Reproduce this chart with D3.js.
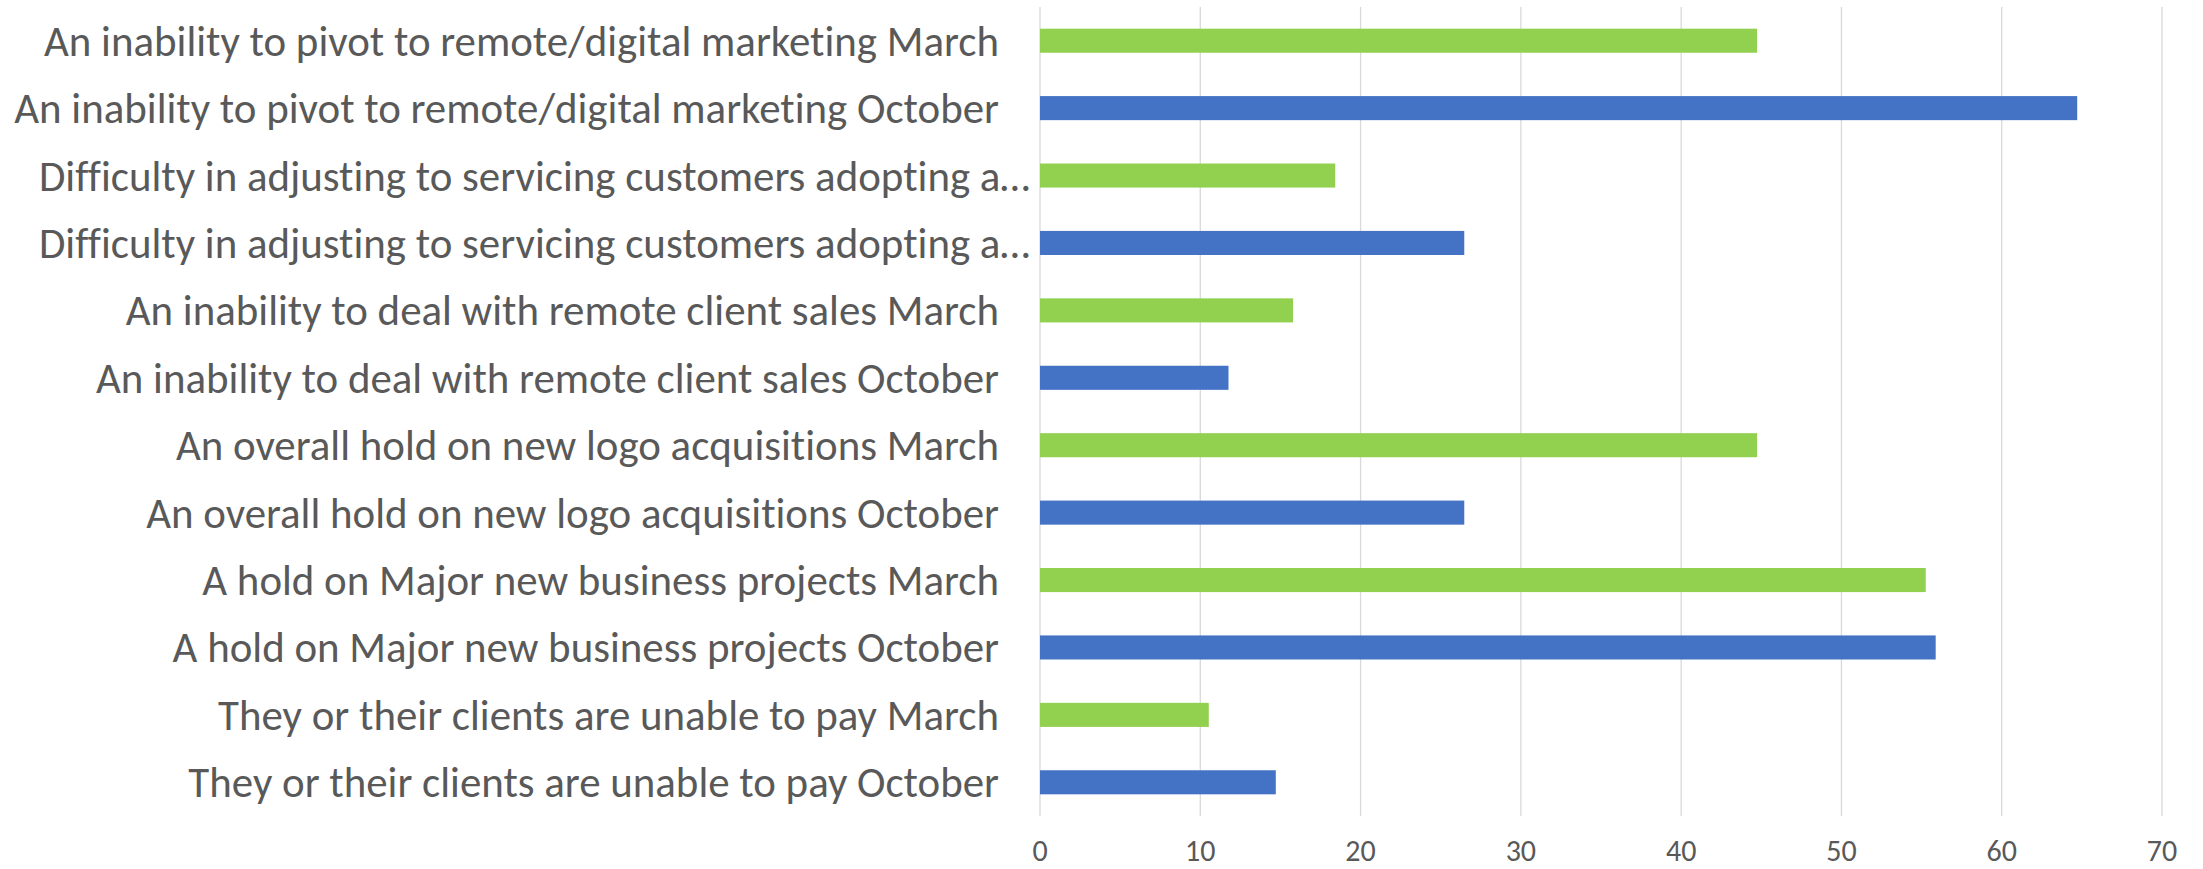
<meta charset="utf-8">
<style type="text/css">
    body { margin: 0; background: #fff; }

    .grid line {
        stroke: #d9d9d9;
        stroke-width: 1.3;
    }

    .cat, .tick-label {
        fill: #595959;
        font-family: Carlito, "Liberation Sans Narrow", "DejaVu Sans Condensed", "Open Sans", sans-serif;
        font-variant-ligatures: none;
        font-feature-settings: "liga" 0, "clig" 0;
    }
</style>
<body>

<script src="https://d3js.org/d3.v7.min.js"></script>
<script>

// categories, top to bottom as they appear
var labels = [
    "An inability to pivot to remote/digital marketing March",
    "An inability to pivot to remote/digital marketing October",
    "Difficulty in adjusting to servicing customers adopting a…",
    "Difficulty in adjusting to servicing customers adopting a… ",
    "An inability to deal with remote client sales March",
    "An inability to deal with remote client sales October",
    "An overall hold on new logo acquisitions March",
    "An overall hold on new logo acquisitions October",
    "A hold on Major new business projects March",
    "A hold on Major new business projects October",
    "They or their clients are unable to pay March",
    "They or their clients are unable to pay October"
];

// survey month for each row (sets the bar colour)
var periods = ["March", "October", "March", "October", "March", "October",
               "March", "October", "March", "October", "March", "October"];

// percentage of respondents
var values = [44.74, 64.71, 18.42, 26.47, 15.79, 11.76,
              44.74, 26.47, 55.26, 55.88, 10.53, 14.71];

var ticks = [0, 10, 20, 30, 40, 50, 60, 70];

var colors = {March: "#92d050", October: "#4472c4"};

var width = 2203, height = 869;

var x = d3.scaleLinear().domain([0, 70]).range([1040, 2162]);
var y = d3.scaleBand()
    .domain(labels)
    .range([7, 816])
    .paddingInner(0.643)
    .paddingOuter(0.3215);

var svg = d3.select("body").append("svg")
    .attr("width", width)
    .attr("height", height);

// vertical gridlines
svg.append("g")
    .attr("class", "grid")
  .selectAll("line")
    .data(ticks)
  .enter().append("line")
    .attr("x1", function(d) { return x(d); })
    .attr("x2", function(d) { return x(d); })
    .attr("y1", 7)
    .attr("y2", 816);

// bars
svg.selectAll(".bar")
    .data(values)
  .enter().append("rect")
    .attr("class", "bar")
    .attr("x", x(0))
    .attr("y", function(d, i) { return y(labels[i]); })
    .attr("width", function(d) { return x(d) - x(0); })
    .attr("height", y.bandwidth())
    .attr("fill", function(d, i) { return colors[periods[i]]; });

// x tick labels
svg.selectAll(".tick-label")
    .data(ticks)
  .enter().append("text")
    .attr("class", "tick-label")
    .attr("x", function(d) { return x(d); })
    .attr("y", 861)
    .attr("text-anchor", "middle")
    .style("font-size", "30px")
    .text(function(d) { return d; });

// category labels
var cats = svg.selectAll(".cat")
    .data(labels)
  .enter().append("text")
    .attr("class", "cat")
    .attr("x", function(d) { return d.indexOf("…") >= 0 ? x(0) - 10 : x(0) - 41; })
    .attr("y", function(d) { return y(d) + y.bandwidth() / 2; })
    .attr("dy", "0.35em")
    .attr("text-anchor", "end")
    .style("font-size", "44px")
    .text(function(d) { return d.trim(); });

// fit the font so the longest label spans the same width as the original
var longest = cats.filter(function(d, i) { return i === 1; }).node().getComputedTextLength();
var fs = Math.min(44, 44 * 985 / longest);
cats.style("font-size", fs + "px");

</script>
</body>
